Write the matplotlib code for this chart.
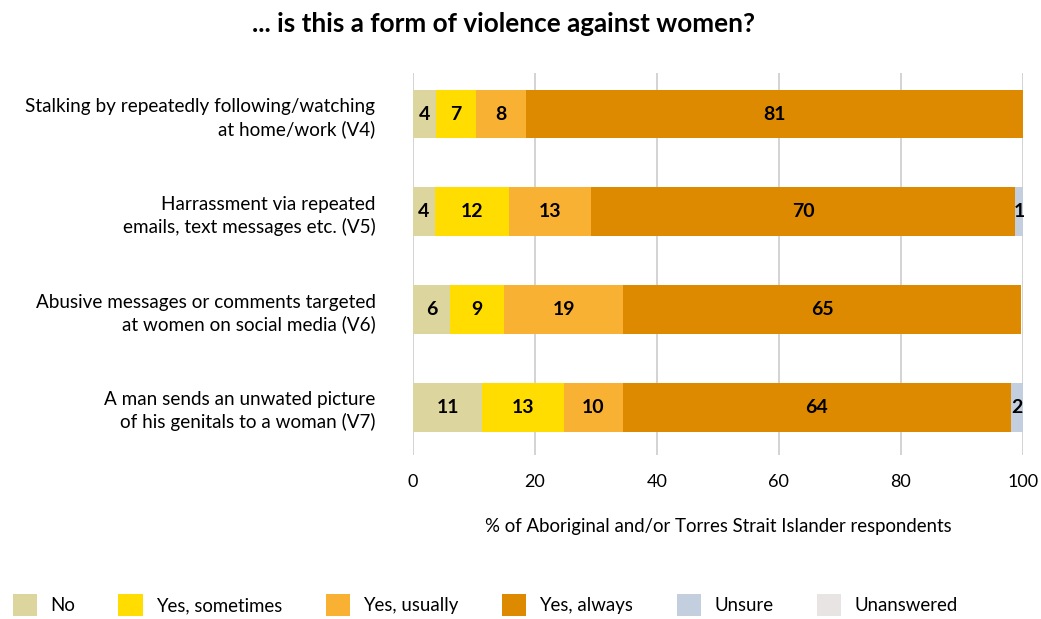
import numpy as np
import matplotlib.pyplot as plt
from matplotlib.patches import Patch

plt.rcParams['font.family'] = ['Lato', 'DejaVu Sans']

questions = [
    'Stalking by repeatedly following/watching\nat home/work (V4)',
    'Harrassment via repeated\nemails, text messages etc. (V5)',
    'Abusive messages or comments targeted\nat women on social media (V6)',
    'A man sends an unwated picture\nof his genitals to a woman (V7)',
]
responses = ['No', 'Yes, sometimes', 'Yes, usually', 'Yes, always', 'Unsure', 'Unanswered']
colors = ['#DDD59E', '#FFDD00', '#F8B133', '#DD8A00', '#C3CEDF', '#E8E4E4']

# share of respondents (%) per question, one list per response
no_vals = [3.7, 3.6, 6.1, 11.4]
sometimes_vals = [6.6, 12.2, 8.9, 13.4]
usually_vals = [8.3, 13.4, 19.4, 9.6]
always_vals = [81.4, 69.6, 65.4, 63.7]
unsure_vals = [0.0, 1.2, 0.0, 1.9]
unanswered_vals = [0.0, 0.0, 0.0, 0.0]

series = [no_vals, sometimes_vals, usually_vals, always_vals, unsure_vals, unanswered_vals]

fig = plt.figure(figsize=(10.41, 6.19), dpi=100)
ax = fig.add_axes([0.3967, 0.2649, 0.5857, 0.6171])

y = np.arange(len(questions))
left = np.zeros(len(questions))
for vals, col in zip(series, colors):
    vals = np.array(vals)
    ax.barh(y, vals, left=left, height=0.5, color=col, zorder=3)
    for yi, l, v in zip(y, left, vals):
        if v > 0:
            ax.text(l + v / 2, yi, '%.0f' % v, ha='center', va='center',
                    fontsize=14, fontweight='bold', color='black', zorder=4)
    left += vals

ax.set_xlim(0, 100)
ax.set_ylim(3.49, -0.42)
ax.set_xticks(range(0, 101, 20))
ax.set_yticks(y)
ax.set_yticklabels(questions, fontsize=13.6, linespacing=1.35)
ax.tick_params(axis='both', length=0)
ax.tick_params(axis='y', pad=27)
ax.tick_params(axis='x', labelsize=13, pad=14)
ax.grid(axis='x', color='#CCCCCC', linewidth=1.2, zorder=0)
for s in ax.spines.values():
    s.set_visible(False)
ax.set_xlabel('% of Aboriginal and/or Torres Strait Islander respondents',
              fontsize=13.4, labelpad=20)

fig.text(0.484, 0.962, '... is this a form of violence against women?',
         ha='center', va='center', fontsize=18.8, fontweight='bold')

handles = [Patch(facecolor=c, edgecolor='none') for c in colors]
fig.legend(handles, responses, loc='lower left', bbox_to_anchor=(-0.004, -0.022),
           ncol=6, frameon=False, fontsize=13.4, handlelength=1.3, handleheight=1.45,
           handletextpad=0.7, columnspacing=2.35)

fig.savefig('out.png', dpi=100)
